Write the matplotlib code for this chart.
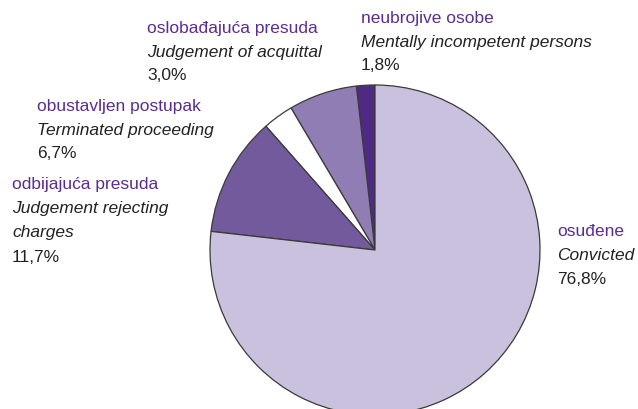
import numpy as np
import matplotlib.pyplot as plt

plt.rcParams['font.family'] = ['Liberation Sans', 'DejaVu Sans']

# data, counterclockwise from the top
labels_sr = ['neubrojive osobe', 'obustavljen postupak', 'oslobađajuća presuda',
             'odbijajuća presuda', 'osuđene']
labels_en = ['Mentally incompetent persons', 'Terminated proceeding',
             'Judgement of acquittal', 'Judgement rejecting\ncharges', 'Convicted']
values = [1.8, 6.7, 3.0, 11.7, 76.8]

colors = ['#4f2a84', '#8f7db3', '#ffffff', '#735a9c', '#c9c1dd']
# top-left of each label block, pixels
label_pos = [(361, 18), (37, 106), (147, 28), (12, 185), (557, 232)]

W, H = 638, 409
fig = plt.figure(figsize=(W / 100, H / 100), dpi=100)
ax = fig.add_axes([0, 0, 1, 1])
ax.set_xlim(0, W)
ax.set_ylim(0, H)
ax.axis('off')

ax.pie(values, colors=colors, startangle=90, counterclock=True,
       center=(375, H - 250), radius=165,
       wedgeprops=dict(edgecolor='#3a3a3a', linewidth=0.9))
ax.set_xlim(0, W)
ax.set_ylim(0, H)
ax.set_aspect('equal')

step = 24
fs = 12.5
for sr, en, v, (x, y) in zip(labels_sr, labels_en, values, label_pos):
    ax.text(x, H - y, sr, color='#5b2d90', fontsize=fs, va='center', ha='left')
    y += step
    for line in en.split('\n'):
        ax.text(x, H - y, line, color='#222222', fontsize=fs, style='italic',
                va='center', ha='left')
        y += step
    ax.text(x, H - y, f'{v:.1f}'.replace('.', ',') + '%', color='#222222',
            fontsize=fs, va='center', ha='left')

fig.savefig('out.png', dpi=100)
